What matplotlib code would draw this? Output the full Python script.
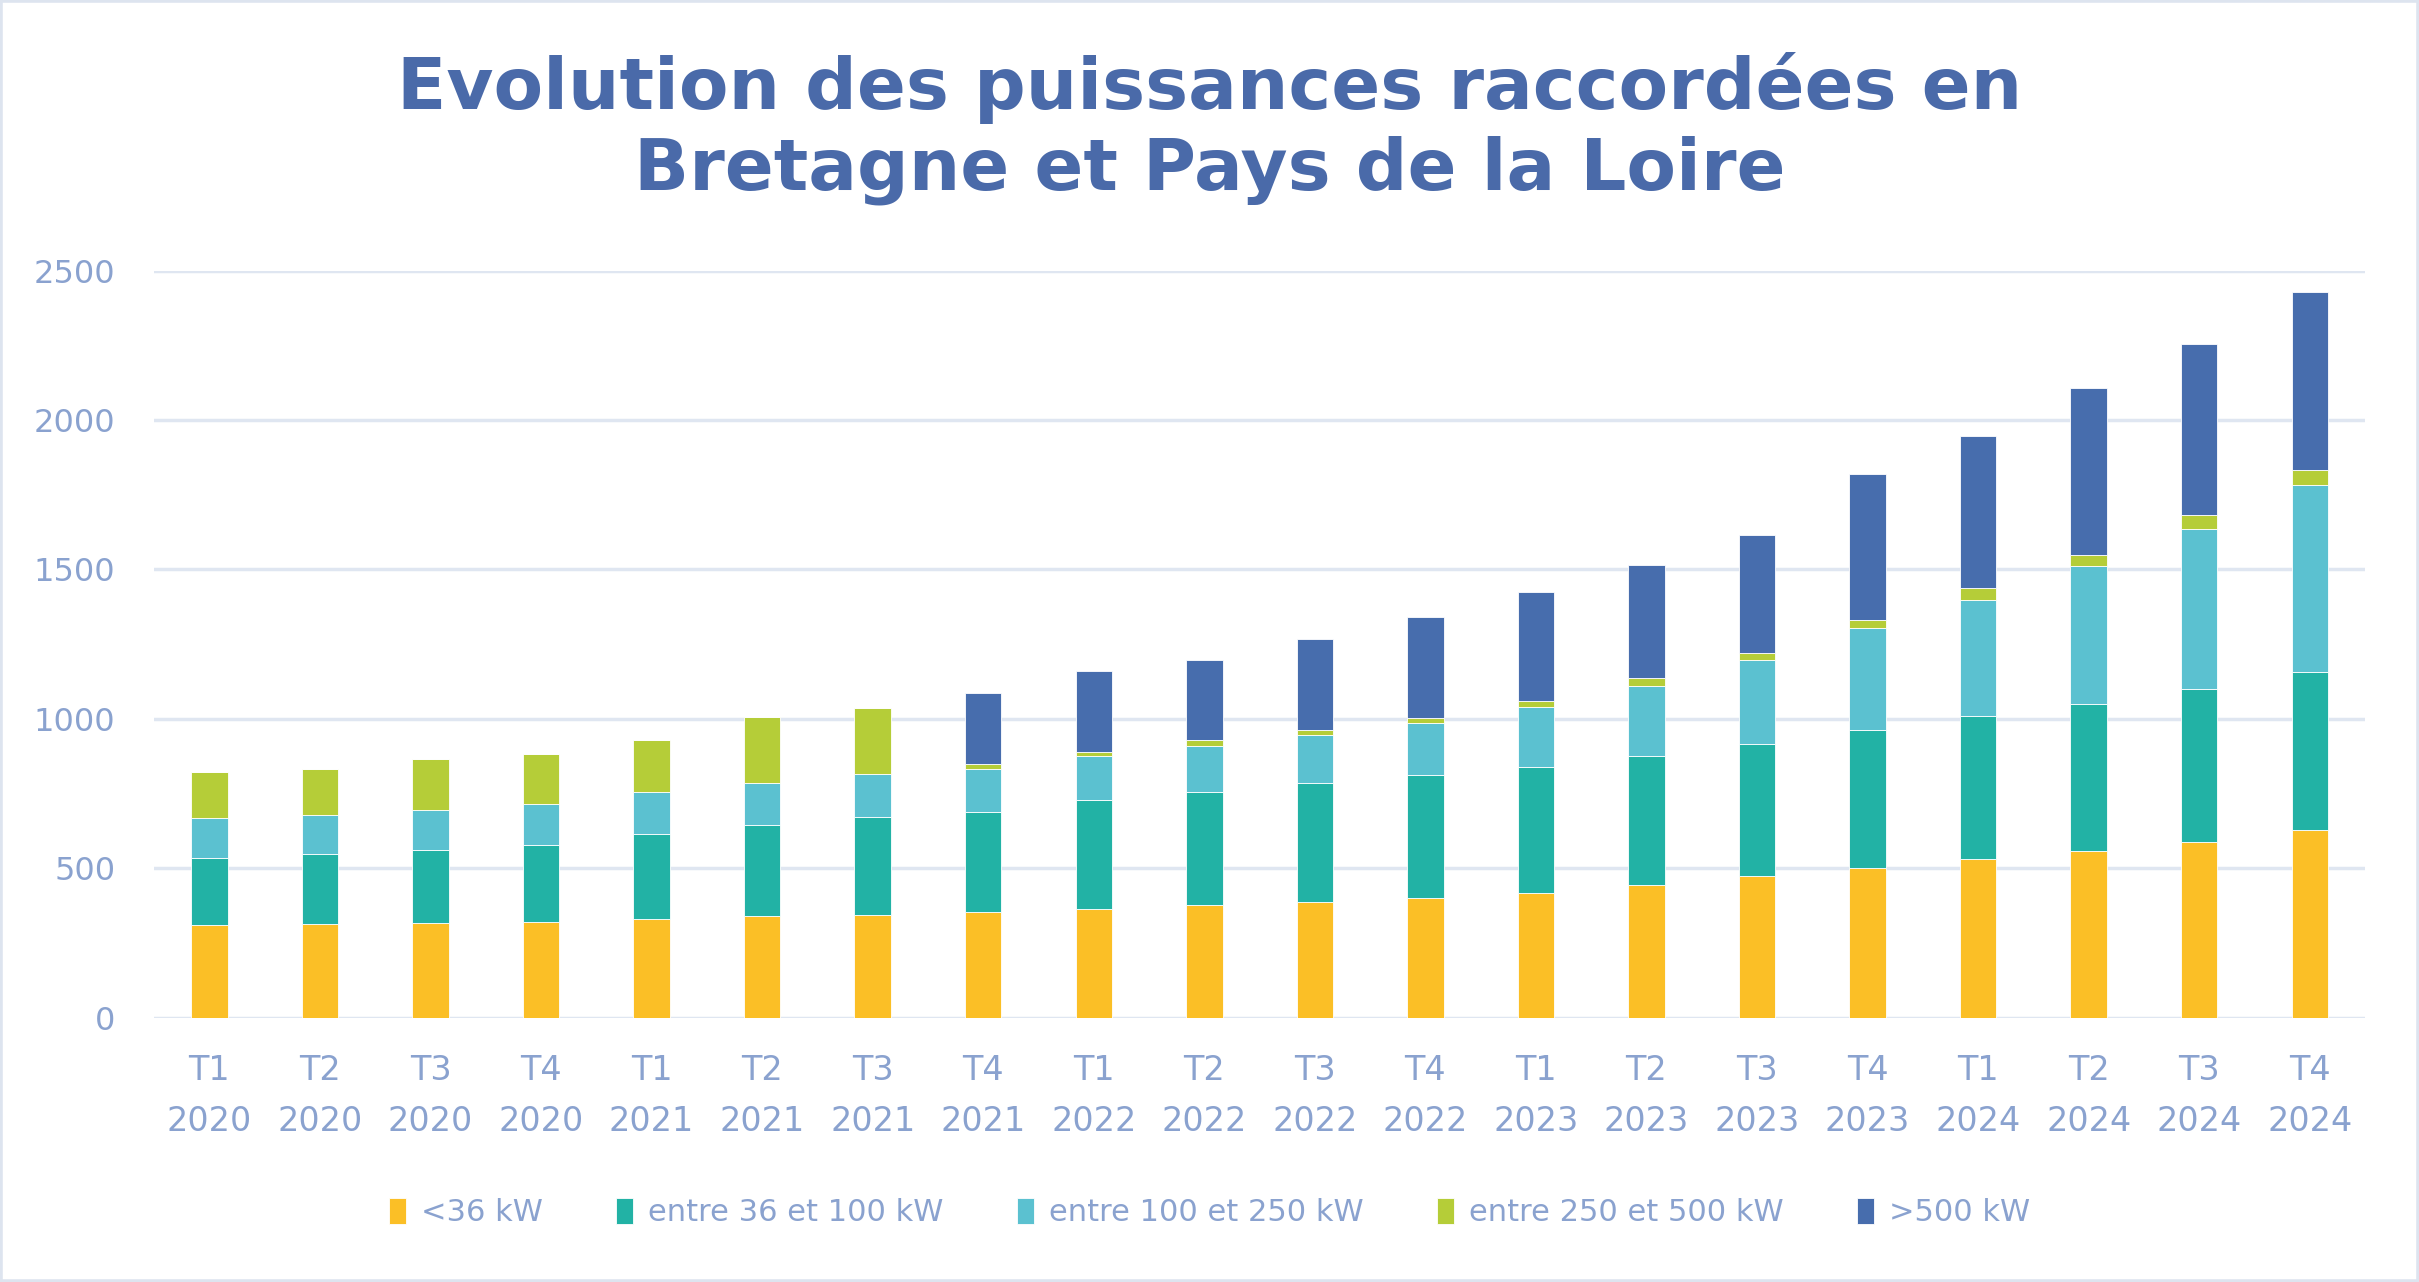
import matplotlib.pyplot as plt
import numpy as np
from matplotlib.patches import Rectangle

quarters = ["T1", "T2", "T3", "T4"] * 5
years = [y for y in ["2020", "2021", "2022", "2023", "2024"] for _ in range(4)]
labels = [q + "\n" + y for q, y in zip(quarters, years)]

lt36 = [310, 313, 317, 320, 330, 340, 343, 354, 364, 378,
        388, 401, 418, 444, 473, 502, 532, 559, 589, 629]
s36_100 = [224, 235, 245, 259, 285, 305, 329, 334, 365, 378,
           398, 411, 421, 432, 444, 461, 478, 491, 511, 529]
s100_250 = [136, 132, 135, 135, 139, 142, 145, 145, 147, 154,
            161, 175, 200, 234, 279, 340, 389, 461, 537, 626]
s250_500 = [154, 151, 168, 168, 175, 219, 219, 15, 15, 18,
            17, 17, 22, 26, 25, 28, 39, 38, 45, 50]
gt500 = [0, 0, 0, 0, 0, 0, 0, 239, 269, 270,
         303, 336, 362, 378, 393, 488, 507, 557, 573, 594]

series = [lt36, s36_100, s100_250, s250_500, gt500]
names = ["<36 kW", "entre 36 et 100 kW", "entre 100 et 250 kW",
         "entre 250 et 500 kW", ">500 kW"]
colors = ["#fbbf26", "#22b2a5", "#5bc1d0", "#b5cd38", "#476dad"]

txt = "#8aa2cf"

fig = plt.figure(figsize=(24.19, 12.82), dpi=100)
ax = fig.add_axes([0.0637, 0.206, 0.914, 0.583])

x = np.arange(len(labels))
bottom = np.zeros(len(labels))
for vals, name, c in zip(series, names, colors):
    v = np.array(vals, dtype=float)
    ax.bar(x, v, width=0.33, bottom=bottom, color=c, label=name,
           edgecolor="white", linewidth=0.6, zorder=3)
    bottom += v

ax.set_xlim(-0.5, len(labels) - 0.5)
ax.set_ylim(0, 2500)
ax.set_yticks(range(0, 2501, 500))
ax.set_xticks(x)
ax.set_xticklabels(labels, fontsize=24, color=txt, linespacing=1.7)
ax.tick_params(axis="y", labelsize=23, labelcolor=txt, length=0, pad=28)
ax.tick_params(axis="x", length=0, pad=26)
ax.grid(axis="y", color="#dfe6f1", linewidth=2.5, zorder=0)
for s in ax.spines.values():
    s.set_visible(False)

fig.text(0.5, 0.90, "Evolution des puissances raccordées en\nBretagne et Pays de la Loire",
         fontsize=52, fontweight="bold", color="#4a6aa9", ha="center", va="center",
         linespacing=1.22)

fig.legend(loc="center", bbox_to_anchor=(0.5, 0.054), ncol=5, frameon=False,
           fontsize=22, labelcolor=txt, handlelength=0.55, handleheight=0.9,
           columnspacing=2.4, handletextpad=0.5)

fig.patches.append(Rectangle((0, 0), 1, 1, transform=fig.transFigure,
                             fill=False, edgecolor="#dde4ef", linewidth=4))

fig.savefig("out.png", dpi=100)
